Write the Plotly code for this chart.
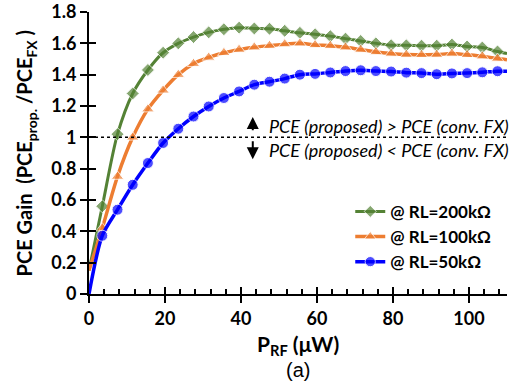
import plotly.graph_objects as go

# ---- data ----
p_rf = [0, 3.5, 7.5, 11.5, 15.5, 19.5, 23.5, 27.5, 31.5, 35.5, 39.5, 43.5, 47.5, 51.5,
        55.5, 59.5, 63.5, 67.5, 71.5, 75.5, 79.5, 83.5, 87.5, 91.5, 95.5, 99.5, 103.5,
        107.5, 110]

gain_200k = [0.15, 0.56, 1.02, 1.28, 1.43, 1.54, 1.60, 1.64, 1.67, 1.69, 1.70, 1.695,
             1.693, 1.68, 1.667, 1.658, 1.646, 1.63, 1.615, 1.60, 1.588, 1.587, 1.585,
             1.585, 1.592, 1.58, 1.573, 1.548, 1.535]
gain_100k = [0.15, 0.42, 0.75, 1.00, 1.18, 1.30, 1.40, 1.47, 1.51, 1.54, 1.56, 1.575,
             1.585, 1.595, 1.60, 1.59, 1.585, 1.575, 1.56, 1.545, 1.535, 1.528, 1.527,
             1.528, 1.535, 1.527, 1.518, 1.503, 1.495]
gain_50k = [0.0, 0.372, 0.538, 0.697, 0.836, 0.964, 1.055, 1.133, 1.197, 1.251, 1.293,
            1.336, 1.355, 1.375, 1.40, 1.405, 1.414, 1.423, 1.428, 1.423, 1.42, 1.413,
            1.41, 1.403, 1.408, 1.41, 1.415, 1.422, 1.422]

series_names = ["@ RL=200kΩ", "@ RL=100kΩ", "@ RL=50kΩ"]
x_ticks = [0, 20, 40, 60, 80, 100]
y_ticks = [0, 0.2, 0.4, 0.6, 0.8, 1, 1.2, 1.4, 1.6, 1.8]
x_range = [0, 110]
y_range = [0, 1.8]
threshold = 1.0

# ---- styles ----
GREEN, ORANGE, BLUE = "#548235", "#ED7D31", "#0000FF"
FONT = "Lato"
n = len(p_rf)


def sizes(s):
    return [0] + [s] * (n - 2) + [0]


fig = go.Figure()
fig.add_trace(go.Scatter(x=p_rf, y=gain_200k, name=series_names[0], mode="lines+markers",
                         line=dict(color=GREEN, width=3, shape="spline", smoothing=0.8),
                         marker=dict(symbol="diamond", size=sizes(10), color=GREEN),
                         xaxis="x", yaxis="y"))
fig.add_trace(go.Scatter(x=p_rf, y=gain_100k, name=series_names[1], mode="lines+markers",
                         line=dict(color=ORANGE, width=3.5, shape="spline", smoothing=0.8),
                         marker=dict(symbol="triangle-up", size=sizes(11), color=ORANGE),
                         xaxis="x", yaxis="y"))
fig.add_trace(go.Scatter(x=p_rf, y=gain_50k, name=series_names[2], mode="lines+markers",
                         line=dict(color=BLUE, width=3.5, shape="spline", smoothing=0.8),
                         marker=dict(symbol="circle", size=sizes(11), color=BLUE),
                         xaxis="x2", yaxis="y2"))

tickfont = dict(family=FONT, size=18, color="black", weight="bold")
common = dict(showgrid=False, zeroline=False, showline=True, linecolor="black",
              linewidth=2, tickcolor="black", tickwidth=2, automargin=False)

fig.update_layout(
    width=523, height=385,
    margin=dict(l=89, r=16, t=12, b=91, autoexpand=False),
    plot_bgcolor="white", paper_bgcolor="white",
    font=dict(family=FONT, color="black"),
    xaxis=dict(range=x_range, tickvals=x_ticks, ticks="outside", ticklen=7,
               tickfont=tickfont, anchor="y", **common),
    yaxis=dict(range=y_range, tickvals=y_ticks, ticks="outside", ticklen=7,
               tickfont=tickfont, anchor="x", **common),
    xaxis2=dict(range=x_range, tickvals=x_ticks, ticks="inside", ticklen=7,
                showticklabels=False, overlaying="x", anchor="y2",
                minor=dict(dtick=4, ticks="inside", ticklen=5, tickwidth=2, tickcolor="black"),
                **common),
    yaxis2=dict(range=y_range, tickvals=y_ticks, ticks="inside", ticklen=7,
                showticklabels=False, overlaying="y", anchor="x2", **common),
    showlegend=True,
    legend=dict(x=0.625, y=0.355, xanchor="left", yanchor="top",
                font=dict(family=FONT, size=17, color="black", weight="bold"),
                bgcolor="rgba(0,0,0,0)", tracegroupgap=0),
)

fig.add_shape(type="line", xref="x", yref="y", x0=x_range[0], x1=x_range[1],
              y0=threshold, y1=threshold, line=dict(color="black", width=1.5, dash="dot"),
              layer="above")

ann_font = dict(family=FONT, size=18, color="black", style="italic")
fig.add_annotation(x=46.8, y=1.074, xref="x", yref="y", xanchor="left", yanchor="middle",
                   text="PCE (proposed) > PCE (conv. FX)", showarrow=False, font=ann_font)
fig.add_annotation(x=46.8, y=0.921, xref="x", yref="y", xanchor="left", yanchor="middle",
                   text="PCE (proposed) < PCE (conv. FX)", showarrow=False, font=ann_font)
fig.add_annotation(x=43.1, y=1.13, ax=43.1, ay=1.035, xref="x", yref="y", axref="x", ayref="y",
                   text="", showarrow=True, arrowhead=2, arrowsize=1.2, arrowwidth=2,
                   arrowcolor="black")
fig.add_annotation(x=43.1, y=0.86, ax=43.1, ay=0.985, xref="x", yref="y", axref="x", ayref="y",
                   text="", showarrow=True, arrowhead=2, arrowsize=1.2, arrowwidth=2,
                   arrowcolor="black")

fig.add_annotation(x=-0.152, y=0.5, xref="paper", yref="paper", textangle=-90,
                   xanchor="center", yanchor="middle", showarrow=False,
                   text="PCE Gain  (PCE<sub>prop.</sub> /PCE<sub>FX</sub> )",
                   font=dict(family=FONT, size=20, color="black", weight="bold"))
fig.add_annotation(x=0.5, y=-0.18, xref="paper", yref="paper", xanchor="center",
                   yanchor="middle", showarrow=False, text="P<sub>RF</sub> (μW)",
                   font=dict(family=FONT, size=21, color="black", weight="bold"))
fig.add_annotation(x=0.5, y=-0.27, xref="paper", yref="paper", xanchor="center",
                   yanchor="middle", showarrow=False, text="(a)",
                   font=dict(family="Liberation Sans", size=20, color="black"))

fig.write_html("out.html")
